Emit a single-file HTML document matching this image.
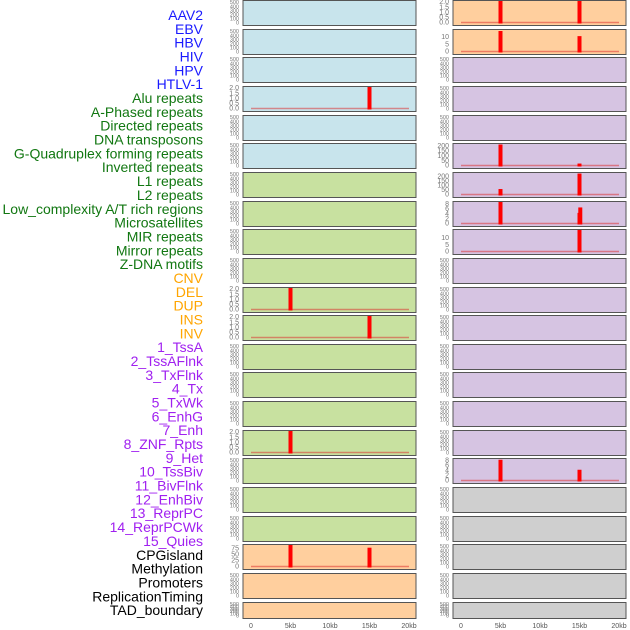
<!DOCTYPE html>
<html><head><meta charset="utf-8"><style>
body{margin:0;background:#fff;}
svg{display:block;font-family:"Liberation Sans",sans-serif;}
</style></head><body>
<svg id="c" width="630" height="630"></svg>
<script>
const labels=["AAV2","EBV","HBV","HIV","HPV","HTLV-1","Alu repeats","A-Phased repeats","Directed repeats","DNA transposons","G-Quadruplex forming repeats","Inverted repeats","L1 repeats","L2 repeats","Low_complexity A/T rich regions","Microsatellites","MIR repeats","Mirror repeats","Z-DNA motifs","CNV","DEL","DUP","INS","INV","1_TssA","2_TssAFlnk","3_TxFlnk","4_Tx","5_TxWk","6_EnhG","7_Enh","8_ZNF_Rpts","9_Het","10_TssBiv","11_BivFlnk","12_EnhBiv","13_ReprPC","14_ReprPCWk","15_Quies","CPGisland","Methylation","Promoters","ReplicationTiming","TAD_boundary"];
const groups=[0,0,0,0,0,0,1,1,1,1,1,1,1,1,1,1,1,1,1,2,2,2,2,2,3,3,3,3,3,3,3,3,3,3,3,3,3,3,3,4,4,4,4,4];
// per-panel bars (panel index = column*22 + row): [position kb], [value]
const barPos={3:[15],10:[5],11:[15],15:[5],19:[5,15],22:[5,15],23:[5,15],27:[5,15],28:[5,15],29:[5,15,15.1],30:[15],38:[5,15]};
const barVal={3:[2.1],10:[2.1],11:[2.1],15:[2.1],19:[90,78],22:[2.1,2.1],23:[14,10.5],27:[215,20],28:[60,230],29:[9,4.3,6.5],30:[16],38:[8.3,4.3]};
const yMax={3:2,10:2,11:2,15:2,19:85,22:2,23:14,27:210,28:225,29:8.3,30:15,38:8.2};
const yTicks={3:["0.0","0.5","1.0","1.5","2.0"],10:["0.0","0.5","1.0","1.5","2.0"],11:["0.0","0.5","1.0","1.5","2.0"],15:["0.0","0.5","1.0","1.5","2.0"],22:["0.0","0.5","1.0","1.5","2.0"],19:["0","25","50","75"],23:["0","5","10"],27:["0","50","100","150","200"],28:["0","50","100","150","200"],29:["0","2","4","6","8"],30:["0","5","10"],38:["0","2","4","6","8"]};
const emptyTicks=["0","100","200","300","400","500"];
const xTicks=[0,5,10,15,20];
const xTickLabels=["0","5kb","10kb","15kb","20kb"];
const gColors=["#1a1aff","#117711","#ffa500","#a020f0","#000"];
const gBg=["#c8e4ec","#c8e1a0","#ffcf9e","#d6c4e2","#cfcfcf"];
const svg=document.getElementById('c');
const NS="http://www.w3.org/2000/svg";
function mk(t,a){const e=document.createElementNS(NS,t);for(const k in a)e.setAttribute(k,a[k]);svg.appendChild(e);return e;}
labels.forEach((l,i)=>{
  const t=mk('text',{x:203,y:20+i*13.84,'text-anchor':'end','font-size':14,fill:gColors[groups[i]]});
  t.textContent=l;
  
  
});
for(let i=0;i<44;i++){
  const col=i<22?0:1,row=i%22;
  const px=col?453:243,pw=173;
  const top=Math.round(row*28.65),h=row==21?16:25;
  const x0=px+8,x1=px+166;
  const xs=v=>x0+(x1-x0)*v/20;
  const bg=col==0?(row<6?0:row<19?1:2):(row<2?2:row<17?3:4);
  const r=mk('rect',{x:px,y:top+0.5,width:pw,height:h,fill:gBg[bg],stroke:'#555','stroke-width':1});
  
  
  const yb=top+h-2.5,yt=top+2;
  const mx=yMax[i];
  const ticks=yTicks[i]||emptyTicks;
  const tmax=mx!==undefined?mx:500;
  const ys=v=>yb-(yb-yt)*v/tmax;
  ticks.forEach(tl=>{
    const t=mk('text',{x:px-4,y:ys(parseFloat(tl))+2.2,'text-anchor':'end','font-size':ticks===emptyTicks?5.5:7,fill:'#777'});
    t.textContent=tl;
    
    
  });
  if(mx!==undefined){
    const bl=mk('line',{x1:xs(0),x2:xs(20),y1:yb,y2:yb,stroke:'rgba(220,40,40,0.5)','stroke-width':1.5});
    
    
    barPos[i].forEach((p,j)=>{
      const yv=Math.max(ys(barVal[i][j]),top+1);
      const b=mk('rect',{x:xs(p)-2,y:yv,width:4,height:yb+1-yv,fill:'#ff0000'});
      
      
    });
  }
  if(row==21){
    xTicks.forEach((v,k)=>{
      const t=mk('text',{x:xs(v),y:628,'text-anchor':'middle','font-size':7,fill:'#555'});
      t.textContent=xTickLabels[k];
      
      
    });
  }
}
</script>
</body></html>
